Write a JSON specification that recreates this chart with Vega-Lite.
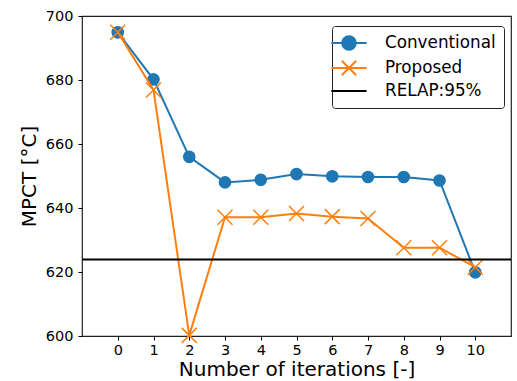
{
  "$schema": "https://vega.github.io/schema/vega-lite/v6.json",
  "width": 429,
  "height": 320,
  "autosize": "none",
  "padding": {"left": 82, "top": 16, "right": 6, "bottom": 45},
  "config": {
    "font": "DejaVu Sans",
    "view": {"stroke": "#222", "strokeWidth": 1.2},
    "axis": {
      "grid": false,
      "domain": false,
      "labelFont": "DejaVu Sans",
      "labelFontSize": 14.5,
      "labelColor": "#000",
      "tickColor": "#000",
      "tickSize": 4,
      "tickWidth": 1,
      "titleFont": "DejaVu Sans",
      "titleFontSize": 20,
      "titleFontWeight": "normal",
      "titleColor": "#000"
    }
  },
  "data": {
    "values": [
      {"iter": 0, "value": 694.9, "series": "Conventional"},
      {"iter": 1, "value": 680.2, "series": "Conventional"},
      {"iter": 2, "value": 656.0, "series": "Conventional"},
      {"iter": 3, "value": 648.0, "series": "Conventional"},
      {"iter": 4, "value": 648.8, "series": "Conventional"},
      {"iter": 5, "value": 650.6, "series": "Conventional"},
      {"iter": 6, "value": 649.9, "series": "Conventional"},
      {"iter": 7, "value": 649.7, "series": "Conventional"},
      {"iter": 8, "value": 649.7, "series": "Conventional"},
      {"iter": 9, "value": 648.6, "series": "Conventional"},
      {"iter": 10, "value": 619.9, "series": "Conventional"},
      {"iter": 0, "value": 694.9, "series": "Proposed"},
      {"iter": 1, "value": 676.9, "series": "Proposed"},
      {"iter": 2, "value": 600.2, "series": "Proposed"},
      {"iter": 3, "value": 637.1, "series": "Proposed"},
      {"iter": 4, "value": 637.1, "series": "Proposed"},
      {"iter": 5, "value": 638.3, "series": "Proposed"},
      {"iter": 6, "value": 637.3, "series": "Proposed"},
      {"iter": 7, "value": 636.7, "series": "Proposed"},
      {"iter": 8, "value": 627.6, "series": "Proposed"},
      {"iter": 9, "value": 627.6, "series": "Proposed"},
      {"iter": 10, "value": 621.5, "series": "Proposed"}
    ]
  },
  "layer": [
    {
      "transform": [{"filter": "datum.series === 'Conventional'"}],
      "mark": {"type": "line", "strokeWidth": 2},
      "encoding": {
        "x": {"field": "iter", "type": "quantitative", "scale": {"domain": [-1, 11], "nice": false, "zero": false},
          "axis": {"values": [0,1,2,3,4,5,6,7,8,9,10], "title": "Number of iterations [-]", "labelPadding": 3, "titlePadding": 3}},
        "y": {"field": "value", "type": "quantitative", "scale": {"domain": [600, 700], "nice": false, "zero": false},
          "axis": {"values": [600,620,640,660,680,700], "title": "MPCT [°C]", "labelPadding": 5, "titlePadding": 6}},
        "color": {"field": "series", "type": "nominal",
          "scale": {"domain": ["Conventional", "Proposed", "RELAP:95%"], "range": ["#1f77b4", "#ff7f0e", "#000000"]},
          "legend": {
            "title": null,
            "orient": "none",
            "legendX": 250,
            "legendY": 10,
            "padding": 8,
            "strokeColor": "#222",
            "fillColor": "#ffffff",
            "cornerRadius": 3,
            "labelFont": "DejaVu Sans",
            "labelFontSize": 16.8,
            "labelColor": "#000",
            "labelOffset": 27,
            "symbolSize": 256,
            "rowPadding": 2,
            "encode": {
              "symbols": {
                "update": {
                  "shape": {"signal": "datum.value === 'Conventional' ? 'M-2.2,0L2.2,0M-0.85,0A0.85,0.85 0 1,0 0.85,0A0.85,0.85 0 1,0 -0.85,0Z' : datum.value === 'Proposed' ? 'M-2.2,0L2.2,0M-0.9,-0.9L0.9,0.9M0.9,-0.9L-0.9,0.9' : 'M-2.2,0L2.2,0'"},
                  "fill": {"signal": "datum.value === 'Conventional' ? '#1f77b4' : 'transparent'"},
                  "stroke": {"signal": "datum.value === 'Conventional' ? '#1f77b4' : datum.value === 'Proposed' ? '#ff7f0e' : '#000000'"},
                  "strokeWidth": {"value": 2},
                  "opacity": {"value": 1}
                }
              }
            }
          }}
      }
    },
    {
      "transform": [{"filter": "datum.series === 'Conventional'"}],
      "mark": {"type": "point", "shape": "circle", "filled": true, "size": 160, "opacity": 1},
      "encoding": {
        "x": {"field": "iter", "type": "quantitative"},
        "y": {"field": "value", "type": "quantitative"},
        "color": {"field": "series", "type": "nominal"}
      }
    },
    {
      "transform": [{"filter": "datum.series === 'Proposed'"}],
      "mark": {"type": "line", "strokeWidth": 2},
      "encoding": {
        "x": {"field": "iter", "type": "quantitative"},
        "y": {"field": "value", "type": "quantitative"},
        "color": {"field": "series", "type": "nominal"}
      }
    },
    {
      "transform": [{"filter": "datum.series === 'Proposed'"}],
      "mark": {"type": "point", "shape": "M-1,-1L1,1M1,-1L-1,1", "filled": false, "size": 225, "strokeWidth": 1.5, "opacity": 1},
      "encoding": {
        "x": {"field": "iter", "type": "quantitative"},
        "y": {"field": "value", "type": "quantitative"},
        "color": {"field": "series", "type": "nominal"}
      }
    },
    {
      "data": {"values": [{"value": 623.9, "series": "RELAP:95%"}]},
      "mark": {"type": "rule", "strokeWidth": 2},
      "encoding": {
        "y": {"field": "value", "type": "quantitative"},
        "color": {"field": "series", "type": "nominal"}
      }
    }
  ]
}
